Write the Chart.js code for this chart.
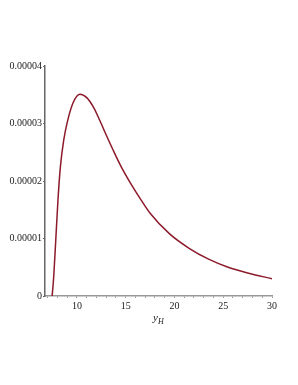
<!DOCTYPE html>
<html>
<head>
  <meta charset="UTF-8">
  <title>y_H curve</title>
  <script src="https://cdn.jsdelivr.net/npm/chart.js"></script>
  <style>
    body { margin: 0; background: #fff; }
    #wrap { position: relative; width: 298px; height: 385px; }
    #xtitle { position: absolute; left: 153px; top: 311px; font-family: "Liberation Serif", serif; font-size: 11px; font-style: italic; color: #222; }
    #xtitle sub { font-size: 8px; }
  </style>
</head>
<body>
<div id="wrap">
  <canvas id="myChart" width="298" height="385"></canvas>
  <div id="xtitle">y<sub>H</sub></div>
</div>
<script>
  // values (y in units of 1e-5)
  const yH = [7.45, 7.6, 7.8, 8.05, 8.3, 8.64, 9.0, 9.6, 10.3, 11.0, 11.7, 12.4, 13.0, 13.7, 14.5,
              15.5, 16.5, 17.5, 19.5, 21.5, 23.5, 25.5, 27.5, 30.0];
  const fVal = [0, 0.30, 0.90, 1.67, 2.25, 2.71, 3.02, 3.36, 3.51, 3.45, 3.28, 3.03, 2.80, 2.54, 2.26,
                1.96, 1.69, 1.44, 1.08, 0.83, 0.64, 0.50, 0.40, 0.30];
  const xTicks = [7, 8, 9, 10, 11, 12, 13, 14, 15, 16, 17, 18, 19, 20, 21, 22, 23, 24, 25, 26, 27, 28, 29, 30];
  const yTicks = [0, 0.00001, 0.00002, 0.00003, 0.00004];

  const pts = yH.map((x, i) => ({x: x, y: fVal[i] * 1e-5}));
  const font = {family: '"Liberation Serif", serif', size: 10};

  new Chart(document.getElementById('myChart'), {
    type: 'line',
    data: {
      datasets: [{
        data: pts,
        borderColor: '#8c1a2b',
        borderWidth: 1.5,
        pointRadius: 0,
        cubicInterpolationMode: 'monotone',
        fill: false
      }]
    },
    options: {
      responsive: false,
      animation: false,
      layout: {padding: {top: 66, right: 26, left: 0, bottom: 0}},
      plugins: {legend: {display: false}, tooltip: {enabled: false}},
      scales: {
        x: {
          type: 'linear',
          min: 6.72,
          max: 30,
          afterBuildTicks: s => { s.ticks = xTicks.map(v => ({value: v})); },
          afterFit: s => { s.height = 89; },
          border: {color: '#999', width: 1.5},
          grid: {drawOnChartArea: false, tickLength: 2, color: '#999'},
          ticks: {
            font: font, color: '#222', padding: 2, maxRotation: 0, autoSkip: false,
            callback: v => (v % 5 === 0 ? String(v) : '')
          }
        },
        y: {
          min: 0,
          max: 0.00004,
          afterBuildTicks: s => { s.ticks = yTicks.map(v => ({value: v})); },
          afterFit: s => { s.width = 45; },
          border: {color: '#666', width: 1.5},
          grid: {drawOnChartArea: false, tickLength: 2, color: '#666'},
          ticks: {
            font: font, color: '#222', padding: 1,
            callback: v => (v === 0 ? '0' : v.toFixed(5))
          }
        }
      }
    }
  });
</script>
</body>
</html>
